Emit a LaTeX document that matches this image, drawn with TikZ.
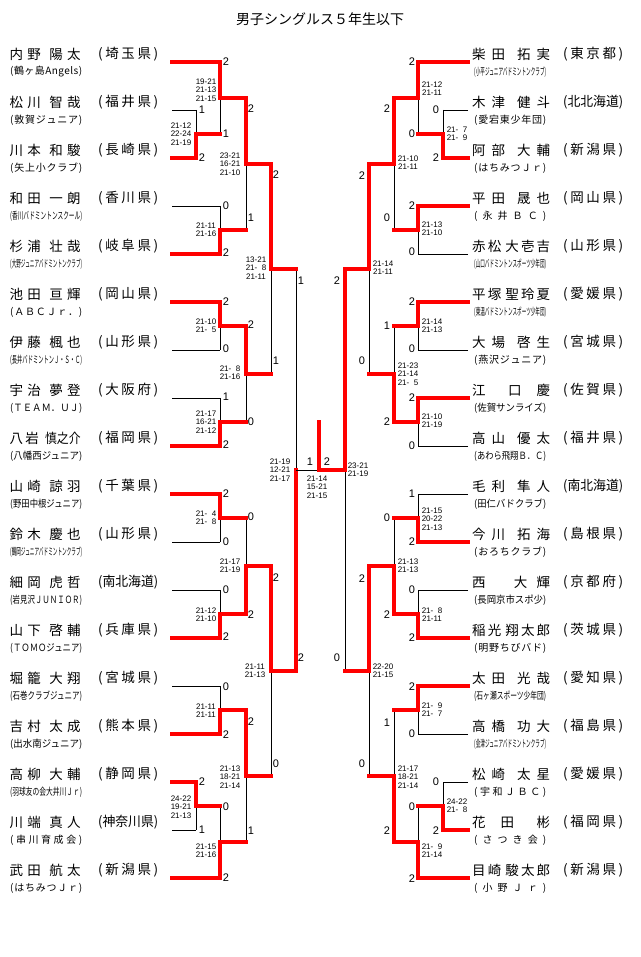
\documentclass[tikz,border=0pt]{standalone}
\usepackage{fontspec}
\usepackage{graphicx}
\setmainfont{Liberation Sans}
\newfontfamily\jp{Noto Sans CJK JP}
\usetikzlibrary{calc}
\makeatletter
\def\sprd#1{\sprd@a#1\@nil}
\def\sprd@a#1#2\@nil{#1\if\relax\detokenize{#2}\relax\else\hfill\sprd@a#2\@nil\fi}
\makeatother
\newlength\fbw
\newcommand\fitbox[2]{\settowidth\fbw{#2}\ifdim\fbw>#1\relax\resizebox{#1}{\height}{#2}\else\makebox[#1][l]{\sprd{#2}}\fi}
\newcommand\nm[2]{\sprd{#1}\hfill\hfill\sprd{#2}}
\newcommand\zz{\hphantom{0}}
\tikzset{
 lose/.style={draw=black, line width=0.8pt},
 win/.style={draw=red, line width=3.2pt, line cap=rect},
 lbl/.style={inner sep=0pt, font=\fontsize{11}{11}\selectfont},
 scr/.style={inner sep=0pt, align=center, font=\fontsize{8}{8.3}\selectfont},
 nmst/.style={inner sep=0pt, anchor=west, font=\jp\fontsize{13.5}{14}\selectfont},
 clst/.style={inner sep=0pt, anchor=west, font=\jp\fontsize{10}{10}\selectfont},
}
\newcommand\mt[7]{%
 \coordinate (#4) at ($(#1 -| #3)!0.5!(#2 -| #3)$);
 \draw[lose] (#1 -| #3) -- (#2 -| #3);
 \draw[#6] (#1) -- (#1 -| #3);
 \draw[#7] (#2) -- (#2 -| #3);
 \ifx t#5\draw[win] (#1 -| #3) -- (#4);\else\draw[win] (#2 -| #3) -- (#4);\fi
}
\newcommand\Lp[5]{%
 \coordinate (L#1) at (172,-#2);
 \node[nmst] (Ln#1) at (9.5,-#2+8) {\makebox[71pt][l]{#3}};
 \node[nmst] (Lq#1) at (98,-#2+8) {\fitbox{60pt}{#4}};
 \node[clst] (Lc#1) at (10,-#2-10) {\fitbox{72pt}{#5}};
}
\newcommand\Rp[5]{%
 \coordinate (R#1) at (468,-#2);
 \node[nmst] (Rn#1) at (472,-#2+8) {\makebox[78pt][l]{#3}};
 \node[nmst] (Rq#1) at (563,-#2+8) {\fitbox{60pt}{#4}};
 \node[clst] (Rc#1) at (474,-#2-10) {\fitbox{72pt}{#5}};
}
\newcommand\lb[4]{\node[lbl] (#1) at (#2,-#3) {#4};}
\newcommand\scr[4]{\node[scr] (#1) at (#2,-#3) {#4};}
\begin{document}
\begin{tikzpicture}[x=1pt,y=1pt]
\useasboundingbox (0,0) rectangle (640,-957);
\node[inner sep=0pt, font=\jp\fontsize{14}{14}\selectfont] (title) at (320,-19) {男子シングルス５年生以下};
% columns
\coordinate (cA) at (196,0); \coordinate (cB) at (220,0); \coordinate (cC) at (246,0);
\coordinate (cD) at (271,0); \coordinate (cE) at (296,0);
\coordinate (dA) at (443,0); \coordinate (dB) at (418,0); \coordinate (dC) at (394,0);
\coordinate (dD) at (369,0); \coordinate (dE) at (345,0);
\coordinate (cF) at (319,0); \coordinate (champ) at (319,-422);
% left players
\Lp{1}{62}{\nm{内野}{陽太}}{(埼玉県)}{(鶴ヶ島Angels)}
\Lp{2}{110}{\nm{松川}{智哉}}{(福井県)}{(敦賀ジュニア)}
\Lp{3}{158}{\nm{川本}{和駿}}{(長崎県)}{(矢上小クラブ)}
\Lp{4}{206}{\nm{和田}{一朗}}{(香川県)}{(香川バドミントンスクール)}
\Lp{5}{254}{\nm{杉浦}{壮哉}}{(岐阜県)}{(大野ジュニアバドミントンクラブ)}
\Lp{6}{302}{\nm{池田}{亘輝}}{(岡山県)}{(ＡＢＣＪｒ．)}
\Lp{7}{350}{\nm{伊藤}{楓也}}{(山形県)}{(長井バドミントンＪ・Ｓ・Ｃ)}
\Lp{8}{398}{\nm{宇治}{夢登}}{(大阪府)}{(ＴＥＡＭ．ＵＪ)}
\Lp{9}{446}{\sprd{八岩}\hfill\hfill\hfill\scalebox{0.88}[1]{慎之介}}{(福岡県)}{(八幡西ジュニア)}
\Lp{10}{494}{\nm{山崎}{諒羽}}{(千葉県)}{(野田中根ジュニア)}
\Lp{11}{542}{\nm{鈴木}{慶也}}{(山形県)}{(鶴岡ジュニアバドミントンクラブ)}
\Lp{12}{590}{\nm{細岡}{虎哲}}{(南北海道)}{(岩見沢ＪＵＮＩＯＲ)}
\Lp{13}{638}{\nm{山下}{啓輔}}{(兵庫県)}{(ＴＯＭＯジュニア)}
\Lp{14}{686}{\nm{堀籠}{大翔}}{(宮城県)}{(石巻クラブジュニア)}
\Lp{15}{734}{\nm{吉村}{太成}}{(熊本県)}{(出水南ジュニア)}
\Lp{16}{782}{\nm{高柳}{大輔}}{(静岡県)}{(羽球友の会大井川Ｊｒ)}
\Lp{17}{830}{\nm{川端}{真人}}{(神奈川県)}{(串川育成会)}
\Lp{18}{878}{\nm{武田}{航太}}{(新潟県)}{(はちみつＪｒ)}
% right players
\Rp{1}{62}{\nm{柴田}{拓実}}{(東京都)}{(小平ジュニアバドミントンクラブ)}
\Rp{2}{110}{\nm{木津}{健斗}}{(北北海道)}{(愛宕東少年団)}
\Rp{3}{158}{\nm{阿部}{大輔}}{(新潟県)}{(はちみつＪｒ)}
\Rp{4}{206}{\nm{平田}{晟也}}{(岡山県)}{(永井ＢＣ)}
\Rp{5}{254}{\nm{赤松}{大壱吉}}{(山形県)}{(山口バドミントンスポーツ少年団)}
\Rp{6}{302}{\nm{平塚}{聖玲夏}}{(愛媛県)}{(東温バドミントンスポーツ少年団)}
\Rp{7}{350}{\nm{大場}{啓生}}{(宮城県)}{(燕沢ジュニア)}
\Rp{8}{398}{江\hfill\hfill\hfill 口\hfill\hfill 慶}{(佐賀県)}{(佐賀サンライズ)}
\Rp{9}{446}{\nm{高山}{優太}}{(福井県)}{(あわら飛翔Ｂ．Ｃ)}
\Rp{10}{494}{\nm{毛利}{隼人}}{(南北海道)}{(田仁バドクラブ)}
\Rp{11}{542}{\nm{今川}{拓海}}{(島根県)}{(おろちクラブ)}
\Rp{12}{590}{西\hfill\hfill\hfill 大\hfill 輝}{(京都府)}{(長岡京市スポ少)}
\Rp{13}{638}{\nm{稲光}{翔太郎}}{(茨城県)}{(明野ちびバド)}
\Rp{14}{686}{\nm{太田}{光哉}}{(愛知県)}{(石ヶ瀬スポーツ少年団)}
\Rp{15}{734}{\nm{高橋}{功大}}{(福島県)}{(会津ジュニアバドミントンクラブ)}
\Rp{16}{782}{\nm{松崎}{太星}}{(愛媛県)}{(宇和ＪＢＣ)}
\Rp{17}{830}{花\hfill\hfill 田\hfill\hfill\hfill 彬}{(福岡県)}{(さつき会)}
\Rp{18}{878}{\nm{目崎}{駿太郎}}{(新潟県)}{(小野Ｊｒ)}
% left bracket
\mt{L2}{L3}{cA}{a1}{b}{lose}{win}
\mt{L1}{a1}{cB}{a2}{t}{win}{win}
\mt{L4}{L5}{cB}{a3}{b}{lose}{win}
\mt{a2}{a3}{cC}{a4}{t}{win}{win}
\mt{L6}{L7}{cB}{b1}{t}{win}{lose}
\mt{L8}{L9}{cB}{b2}{b}{lose}{win}
\mt{b1}{b2}{cC}{b3}{t}{win}{win}
\mt{a4}{b3}{cD}{ab}{t}{win}{win}
\mt{L10}{L11}{cB}{c1}{t}{win}{lose}
\mt{L12}{L13}{cB}{c2}{b}{lose}{win}
\mt{c1}{c2}{cC}{c3}{b}{win}{win}
\mt{L14}{L15}{cB}{d1}{b}{lose}{win}
\mt{L16}{L17}{cA}{d2}{t}{win}{lose}
\mt{d2}{L18}{cB}{d3}{b}{win}{win}
\mt{d1}{d3}{cC}{d4}{t}{win}{win}
\mt{c3}{d4}{cD}{cd}{t}{win}{win}
\mt{ab}{cd}{cE}{LF}{b}{win}{win}
% right bracket
\mt{R2}{R3}{dA}{e1}{b}{lose}{win}
\mt{R1}{e1}{dB}{e2}{t}{win}{win}
\mt{R4}{R5}{dB}{e3}{t}{win}{lose}
\mt{e2}{e3}{dC}{e4}{t}{win}{win}
\mt{R6}{R7}{dB}{f1}{t}{win}{lose}
\mt{R8}{R9}{dB}{f2}{t}{win}{lose}
\mt{f1}{f2}{dC}{f3}{b}{win}{win}
\mt{e4}{f3}{dD}{ef}{t}{win}{win}
\mt{R10}{R11}{dB}{g1}{b}{lose}{win}
\mt{R12}{R13}{dB}{g2}{b}{lose}{win}
\mt{g1}{g2}{dC}{g3}{b}{win}{win}
\mt{R14}{R15}{dB}{h1}{t}{win}{lose}
\mt{R16}{R17}{dA}{h2}{b}{lose}{win}
\mt{h2}{R18}{dB}{h3}{b}{win}{win}
\mt{h1}{h3}{dC}{h4}{b}{win}{win}
\mt{g3}{h4}{dD}{gh}{t}{win}{win}
\mt{ef}{gh}{dE}{RF}{t}{win}{win}
% final
\draw[lose] (LF) -- (RF);
\draw[win] (RF) -- (RF -| cF) -- (champ);
% left game counts
\lb{k1}{202}{110}{1}\lb{k2}{202}{158}{2}\lb{k3}{202}{782}{2}\lb{k4}{202}{830}{1}
\lb{k5}{226}{62}{2}\lb{k6}{226}{134}{1}\lb{k7}{226}{206}{0}\lb{k8}{226}{253}{2}
\lb{k9}{226}{302}{2}\lb{k10}{226}{349}{0}\lb{k11}{226}{397}{1}\lb{k12}{226}{445}{2}
\lb{k13}{226}{494}{2}\lb{k14}{226}{542}{0}\lb{k15}{226}{590}{0}\lb{k16}{226}{637}{2}
\lb{k17}{226}{687}{0}\lb{k18}{226}{735}{2}\lb{k19}{226}{807}{0}\lb{k20}{226}{878}{2}
\lb{k21}{251}{109}{2}\lb{k22}{251}{218}{1}\lb{k23}{251}{325}{2}\lb{k24}{251}{422}{0}
\lb{k25}{251}{517}{0}\lb{k26}{251}{615}{2}\lb{k27}{251}{722}{2}\lb{k28}{251}{831}{1}
\lb{k29}{276}{175}{2}\lb{k30}{276}{361}{1}\lb{k31}{276}{578}{2}\lb{k32}{276}{764}{0}
\lb{k33}{301}{281}{1}\lb{k34}{301}{658}{2}
\lb{k35}{310}{462}{1}\lb{k36}{327}{462}{2}
% right game counts
\lb{m1}{436}{110}{0}\lb{m2}{436}{158}{2}\lb{m3}{436}{782}{0}\lb{m4}{436}{831}{2}
\lb{m5}{412}{62}{2}\lb{m6}{412}{134}{0}\lb{m7}{412}{206}{2}\lb{m8}{412}{252}{0}
\lb{m9}{412}{302}{2}\lb{m10}{412}{349}{0}\lb{m11}{412}{398}{2}\lb{m12}{412}{446}{0}
\lb{m13}{412}{494}{1}\lb{m14}{412}{542}{2}\lb{m15}{412}{590}{0}\lb{m16}{412}{638}{2}
\lb{m17}{412}{687}{2}\lb{m18}{412}{734}{0}\lb{m19}{412}{807}{0}\lb{m20}{412}{879}{2}
\lb{m21}{387}{109}{2}\lb{m22}{387}{218}{0}\lb{m23}{387}{326}{1}\lb{m24}{387}{422}{2}
\lb{m25}{387}{518}{0}\lb{m26}{387}{615}{2}\lb{m27}{387}{723}{1}\lb{m28}{387}{831}{2}
\lb{m29}{362}{176}{2}\lb{m30}{362}{361}{0}\lb{m31}{362}{579}{2}\lb{m32}{362}{764}{0}
\lb{m33}{337}{281}{2}\lb{m34}{337}{658}{0}
% left scores
\scr{s1}{181}{134}{21-12\\22-24\\21-19}
\scr{s2}{206}{90}{19-21\\21-13\\21-15}
\scr{s3}{206}{230}{21-11\\21-16}
\scr{s4}{230}{164}{23-21\\16-21\\21-10}
\scr{s5}{256}{268}{13-21\\21-\zz8\\21-11}
\scr{s6}{206}{326}{21-10\\21-\zz5}
\scr{s7}{230}{373}{21-\zz8\\21-16}
\scr{s8}{206}{422}{21-17\\16-21\\21-12}
\scr{s9}{280}{470}{21-19\\12-21\\21-17}
\scr{s10}{206}{518}{21-\zz4\\21-\zz8}
\scr{s11}{230}{566}{21-17\\21-19}
\scr{s12}{206}{615}{21-12\\21-10}
\scr{s13}{255}{671}{21-11\\21-13}
\scr{s14}{206}{711}{21-11\\21-11}
\scr{s15}{230}{777}{21-13\\18-21\\21-14}
\scr{s16}{181}{807}{24-22\\19-21\\21-13}
\scr{s17}{206}{851}{21-15\\21-16}
\scr{s18}{317}{487}{21-14\\15-21\\21-15}
% right scores
\scr{t1}{457}{134}{21-\zz7\\21-\zz9}
\scr{t2}{432}{89}{21-12\\21-11}
\scr{t3}{408}{163}{21-10\\21-11}
\scr{t4}{432}{229}{21-13\\21-10}
\scr{t5}{383}{268}{21-14\\21-11}
\scr{t6}{432}{326}{21-14\\21-13}
\scr{t7}{408}{374}{21-23\\21-14\\21-\zz5}
\scr{t8}{432}{421}{21-10\\21-19}
\scr{t9}{358}{470}{23-21\\21-19}
\scr{t10}{432}{519}{21-15\\20-22\\21-13}
\scr{t11}{408}{566}{21-13\\21-13}
\scr{t12}{432}{615}{21-\zz8\\21-11}
\scr{t13}{383}{671}{22-20\\21-15}
\scr{t14}{432}{710}{21-\zz9\\21-\zz7}
\scr{t15}{408}{777}{21-17\\18-21\\21-14}
\scr{t16}{457}{806}{24-22\\21-\zz8}
\scr{t17}{432}{851}{21-\zz9\\21-14}
\end{tikzpicture}
\end{document}
